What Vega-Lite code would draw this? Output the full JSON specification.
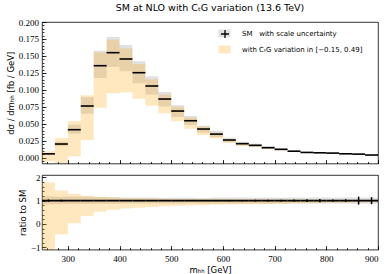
{
  "$schema": "https://vega.github.io/schema/vega-lite/v6.json",
  "background": "white",
  "padding": {"left": 5, "top": 3, "right": 5, "bottom": 3},
  "title": {"text": "SM at NLO with CₜG variation (13.6 TeV)", "font": "DejaVu Sans", "fontSize": 9.5, "fontWeight": "normal", "color": "black", "offset": 5, "anchor": "middle", "frame": "group"},
  "config": {
    "view": {"stroke": "black", "strokeWidth": 0.8},
    "axis": {"grid": false, "domain": false, "tickColor": "black", "tickWidth": 0.8, "labelColor": "black", "titleColor": "black", "labelFont": "Liberation Serif", "labelFontSize": 9, "titleFont": "DejaVu Sans", "titleFontSize": 8.5, "titleFontWeight": "normal"}
  },
  "datasets": {
    "bins": [
      {"x0": 250, "x1": 275, "xc": 262.5, "c": 0.0057, "lo": -0.0053, "hi": 0.0094, "slo": 0.0048, "shi": 0.0067, "rlo": -1.3, "rhi": 1.78, "rslo": 0.84, "rshi": 1.18, "rel": 0.95, "reh": 1.05},
      {"x0": 275, "x1": 300, "xc": 287.5, "c": 0.0202, "lo": -0.0078, "hi": 0.029, "slo": 0.0172, "shi": 0.0235, "rlo": -0.44, "rhi": 1.44, "rslo": 0.85, "rshi": 1.17, "rel": 0.96, "reh": 1.04},
      {"x0": 300, "x1": 325, "xc": 312.5, "c": 0.0413, "lo": 0.002, "hi": 0.054, "slo": 0.0354, "shi": 0.0486, "rlo": 0.035, "rhi": 1.30, "rslo": 0.855, "rshi": 1.175, "rel": 0.98, "reh": 1.02},
      {"x0": 325, "x1": 350, "xc": 337.5, "c": 0.0762, "lo": 0.026, "hi": 0.092, "slo": 0.0649, "shi": 0.0895, "rlo": 0.336, "rhi": 1.215, "rslo": 0.855, "rshi": 1.17, "rel": 0.985, "reh": 1.015},
      {"x0": 350, "x1": 375, "xc": 362.5, "c": 0.1356, "lo": 0.0737, "hi": 0.1553, "slo": 0.1175, "shi": 0.1577, "rlo": 0.525, "rhi": 1.155, "rslo": 0.865, "rshi": 1.165, "rel": 0.99, "reh": 1.01},
      {"x0": 375, "x1": 400, "xc": 387.5, "c": 0.1548, "lo": 0.0949, "hi": 0.174, "slo": 0.1337, "shi": 0.1779, "rlo": 0.61, "rhi": 1.13, "rslo": 0.865, "rshi": 1.15, "rel": 0.99, "reh": 1.01},
      {"x0": 400, "x1": 425, "xc": 412.5, "c": 0.1455, "lo": 0.0964, "hi": 0.161, "slo": 0.1273, "shi": 0.1661, "rlo": 0.665, "rhi": 1.105, "rslo": 0.875, "rshi": 1.14, "rel": 0.99, "reh": 1.01},
      {"x0": 425, "x1": 450, "xc": 437.5, "c": 0.1253, "lo": 0.087, "hi": 0.138, "slo": 0.1097, "shi": 0.142, "rlo": 0.69, "rhi": 1.10, "rslo": 0.875, "rshi": 1.135, "rel": 0.988, "reh": 1.012},
      {"x0": 450, "x1": 475, "xc": 462.5, "c": 0.1057, "lo": 0.0766, "hi": 0.1156, "slo": 0.0929, "shi": 0.12, "rlo": 0.725, "rhi": 1.09, "rslo": 0.88, "rshi": 1.135, "rel": 0.988, "reh": 1.012},
      {"x0": 475, "x1": 500, "xc": 487.5, "c": 0.0865, "lo": 0.0654, "hi": 0.093, "slo": 0.0757, "shi": 0.0968, "rlo": 0.755, "rhi": 1.08, "rslo": 0.875, "rshi": 1.12, "rel": 0.985, "reh": 1.015},
      {"x0": 500, "x1": 525, "xc": 512.5, "c": 0.0688, "lo": 0.0536, "hi": 0.0747, "slo": 0.060, "shi": 0.0777, "rlo": 0.78, "rhi": 1.075, "rslo": 0.875, "rshi": 1.13, "rel": 0.985, "reh": 1.015},
      {"x0": 525, "x1": 550, "xc": 537.5, "c": 0.0545, "lo": 0.0427, "hi": 0.059, "slo": 0.0482, "shi": 0.0615, "rlo": 0.79, "rhi": 1.07, "rslo": 0.885, "rshi": 1.13, "rel": 0.982, "reh": 1.018},
      {"x0": 550, "x1": 575, "xc": 562.5, "c": 0.0423, "lo": 0.0335, "hi": 0.046, "slo": 0.037, "shi": 0.0472, "rlo": 0.80, "rhi": 1.065, "rslo": 0.875, "rshi": 1.115, "rel": 0.98, "reh": 1.02},
      {"x0": 575, "x1": 600, "xc": 587.5, "c": 0.0348, "lo": 0.0285, "hi": 0.0369, "slo": 0.0305, "shi": 0.0395, "rlo": 0.82, "rhi": 1.06, "rslo": 0.875, "rshi": 1.135, "rel": 0.975, "reh": 1.025},
      {"x0": 600, "x1": 625, "xc": 612.5, "c": 0.0261, "lo": 0.0217, "hi": 0.0275, "slo": 0.0228, "shi": 0.0296, "rlo": 0.83, "rhi": 1.055, "rslo": 0.875, "rshi": 1.135, "rel": 0.97, "reh": 1.03},
      {"x0": 625, "x1": 650, "xc": 637.5, "c": 0.0207, "lo": 0.0174, "hi": 0.0217, "slo": 0.0181, "shi": 0.0235, "rlo": 0.84, "rhi": 1.05, "rslo": 0.875, "rshi": 1.135, "rel": 0.97, "reh": 1.03},
      {"x0": 650, "x1": 675, "xc": 662.5, "c": 0.0183, "lo": 0.0156, "hi": 0.0192, "slo": 0.016, "shi": 0.0207, "rlo": 0.85, "rhi": 1.05, "rslo": 0.875, "rshi": 1.13, "rel": 0.965, "reh": 1.035},
      {"x0": 675, "x1": 700, "xc": 687.5, "c": 0.0148, "lo": 0.0127, "hi": 0.0155, "slo": 0.0129, "shi": 0.0168, "rlo": 0.86, "rhi": 1.045, "rslo": 0.87, "rshi": 1.135, "rel": 0.96, "reh": 1.04},
      {"x0": 700, "x1": 725, "xc": 712.5, "c": 0.0124, "lo": 0.0108, "hi": 0.0129, "slo": 0.0108, "shi": 0.014, "rlo": 0.87, "rhi": 1.04, "rslo": 0.87, "rshi": 1.13, "rel": 0.96, "reh": 1.04},
      {"x0": 725, "x1": 750, "xc": 737.5, "c": 0.0096, "lo": 0.0085, "hi": 0.0100, "slo": 0.0084, "shi": 0.0109, "rlo": 0.885, "rhi": 1.04, "rslo": 0.875, "rshi": 1.135, "rel": 0.95, "reh": 1.05},
      {"x0": 750, "x1": 775, "xc": 762.5, "c": 0.0078, "lo": 0.0070, "hi": 0.0081, "slo": 0.0068, "shi": 0.0088, "rlo": 0.895, "rhi": 1.035, "rslo": 0.87, "rshi": 1.13, "rel": 0.945, "reh": 1.055},
      {"x0": 775, "x1": 800, "xc": 787.5, "c": 0.0073, "lo": 0.0066, "hi": 0.0076, "slo": 0.0064, "shi": 0.0083, "rlo": 0.90, "rhi": 1.035, "rslo": 0.875, "rshi": 1.135, "rel": 0.93, "reh": 1.07},
      {"x0": 800, "x1": 825, "xc": 812.5, "c": 0.0068, "lo": 0.0062, "hi": 0.0070, "slo": 0.006, "shi": 0.0077, "rlo": 0.91, "rhi": 1.03, "rslo": 0.88, "rshi": 1.13, "rel": 0.95, "reh": 1.05},
      {"x0": 825, "x1": 850, "xc": 837.5, "c": 0.0058, "lo": 0.0053, "hi": 0.0060, "slo": 0.0051, "shi": 0.0066, "rlo": 0.915, "rhi": 1.03, "rslo": 0.875, "rshi": 1.135, "rel": 0.94, "reh": 1.06},
      {"x0": 850, "x1": 875, "xc": 862.5, "c": 0.0053, "lo": 0.0049, "hi": 0.0055, "slo": 0.0046, "shi": 0.006, "rlo": 0.92, "rhi": 1.03, "rslo": 0.87, "rshi": 1.13, "rel": 0.83, "reh": 1.17},
      {"x0": 875, "x1": 900, "xc": 887.5, "c": 0.0040, "lo": 0.0037, "hi": 0.0041, "slo": 0.0035, "shi": 0.0045, "rlo": 0.925, "rhi": 1.025, "rslo": 0.87, "rshi": 1.13, "rel": 0.85, "reh": 1.15}
    ]
  },
  "spacing": 7,
  "vconcat": [
    {
      "width": 336,
      "height": 141.5,
      "data": {"name": "bins"},
      "layer": [
        {
          "mark": {"type": "rect", "opacity": 0.25},
          "encoding": {
            "x": {"field": "x0", "type": "quantitative", "scale": {"domain": [250, 900], "nice": false, "zero": false},
                  "axis": {"orient": "bottom", "labels": false, "title": null, "values": [300, 400, 500, 600, 700, 800, 900], "tickSize": -4}},
            "x2": {"field": "x1"},
            "y": {"field": "slo", "type": "quantitative", "scale": {"domain": [-0.0085, 0.2], "nice": false, "zero": false},
                  "axis": {"orient": "left", "title": "dσ / dmₕₕ  [fb / GeV]", "values": [0, 0.025, 0.05, 0.075, 0.1, 0.125, 0.15, 0.175, 0.2], "format": ".3f", "tickSize": -4, "labelPadding": 7.5, "titlePadding": 3}},
            "y2": {"field": "shi"},
            "fill": {"datum": "SM\u00a0\u00a0\u00a0with scale uncertainty", "type": "nominal",
                     "scale": {"domain": ["SM\u00a0\u00a0\u00a0with scale uncertainty", "with CₜG variation in [−0.15, 0.49]"], "range": ["#888888", "#FFA500"]},
                     "legend": {"orient": "none", "legendX": 176, "legendY": 5, "title": null, "padding": 0, "symbolType": "M-1,-0.65L1,-0.65L1,0.65L-1,0.65Z", "symbolSize": 150, "symbolOpacity": 0.25, "symbolStrokeWidth": 0, "labelFont": "DejaVu Sans", "labelFontSize": 7, "labelColor": "black", "labelOffset": 11, "rowPadding": 5, "labelLimit": 300}}
          }
        },
        {
          "mark": {"type": "rect", "opacity": 0.25},
          "encoding": {
            "x": {"field": "x0", "type": "quantitative", "axis": null},
            "x2": {"field": "x1"},
            "y": {"field": "lo", "type": "quantitative", "axis": null},
            "y2": {"field": "hi"},
            "fill": {"datum": "with CₜG variation in [−0.15, 0.49]", "type": "nominal"}
          }
        },
        {
          "mark": {"type": "rule", "strokeWidth": 1.6},
          "encoding": {
            "x": {"field": "x0", "type": "quantitative",
                  "axis": {"orient": "bottom", "labels": false, "title": null, "values": [260, 280, 300, 320, 340, 360, 380, 400, 420, 440, 460, 480, 500, 520, 540, 560, 580, 600, 620, 640, 660, 680, 700, 720, 740, 760, 780, 800, 820, 840, 860, 880, 900], "tickSize": -2}},
            "x2": {"field": "x1"},
            "y": {"field": "c", "type": "quantitative",
                  "axis": {"orient": "left", "labels": false, "title": null, "values": [-0.005, 0, 0.005, 0.01, 0.015, 0.02, 0.025, 0.03, 0.035, 0.04, 0.045, 0.05, 0.055, 0.06, 0.065, 0.07, 0.075, 0.08, 0.085, 0.09, 0.095, 0.1, 0.105, 0.11, 0.115, 0.12, 0.125, 0.13, 0.135, 0.14, 0.145, 0.15, 0.155, 0.16, 0.165, 0.17, 0.175, 0.18, 0.185, 0.19, 0.195, 0.2], "tickSize": -2}},
            "stroke": {"datum": "SM", "type": "nominal", "scale": {"domain": ["SM"], "range": ["black"]},
                       "legend": {"orient": "none", "legendX": 178, "legendY": 7, "title": null, "padding": 0, "symbolType": "M-1,0L1,0M0,-1L0,1", "symbolSize": 64, "symbolStrokeWidth": 1.3, "labelExpr": "''"}}
          }
        }
      ],
      "resolve": {"axis": {"x": "independent", "y": "independent"}}
    },
    {
      "width": 336,
      "height": 74.6,
      "data": {"name": "bins"},
      "layer": [
        {
          "mark": {"type": "rect", "opacity": 0.25, "fill": "#888888"},
          "encoding": {
            "x": {"field": "x0", "type": "quantitative", "scale": {"domain": [250, 900], "nice": false, "zero": false},
                  "axis": {"orient": "bottom", "title": "mₕₕ [GeV]", "values": [300, 400, 500, 600, 700, 800, 900], "tickSize": -4, "labelPadding": 9, "titlePadding": 2}},
            "x2": {"field": "x1"},
            "y": {"field": "rslo", "type": "quantitative", "scale": {"domain": [-1.1, 2.1], "nice": false, "zero": false},
                  "axis": {"orient": "left", "title": "ratio to SM", "values": [-1, 0, 1, 2], "format": "d", "tickSize": -4, "labelPadding": 6, "titlePadding": 3}},
            "y2": {"field": "rshi"}
          }
        },
        {
          "mark": {"type": "rect", "opacity": 0.25, "fill": "#FFA500", "clip": true},
          "encoding": {
            "x": {"field": "x0", "type": "quantitative", "axis": null},
            "x2": {"field": "x1"},
            "y": {"field": "rlo", "type": "quantitative", "axis": null},
            "y2": {"field": "rhi"}
          }
        },
        {
          "mark": {"type": "rule", "strokeWidth": 1.8, "color": "black"},
          "encoding": {
            "x": {"field": "x0", "type": "quantitative",
                  "axis": {"orient": "bottom", "labels": false, "title": null, "values": [260, 280, 300, 320, 340, 360, 380, 400, 420, 440, 460, 480, 500, 520, 540, 560, 580, 600, 620, 640, 660, 680, 700, 720, 740, 760, 780, 800, 820, 840, 860, 880, 900], "tickSize": -2}},
            "x2": {"field": "x1"},
            "y": {"datum": 1, "type": "quantitative",
                  "axis": {"orient": "left", "labels": false, "title": null, "values": [-1, -0.8, -0.6, -0.4, -0.2, 0, 0.2, 0.4, 0.6, 0.8, 1, 1.2, 1.4, 1.6, 1.8, 2], "tickSize": -2}}
          }
        },
        {
          "mark": {"type": "rule", "strokeWidth": 1.5, "color": "black"},
          "encoding": {
            "x": {"field": "xc", "type": "quantitative", "axis": null},
            "y": {"field": "rel", "type": "quantitative", "axis": null},
            "y2": {"field": "reh"}
          }
        }
      ],
      "resolve": {"axis": {"x": "independent", "y": "independent"}}
    }
  ],
  "resolve": {"scale": {"fill": "independent", "stroke": "independent"}, "legend": {"fill": "independent", "stroke": "independent"}}
}
